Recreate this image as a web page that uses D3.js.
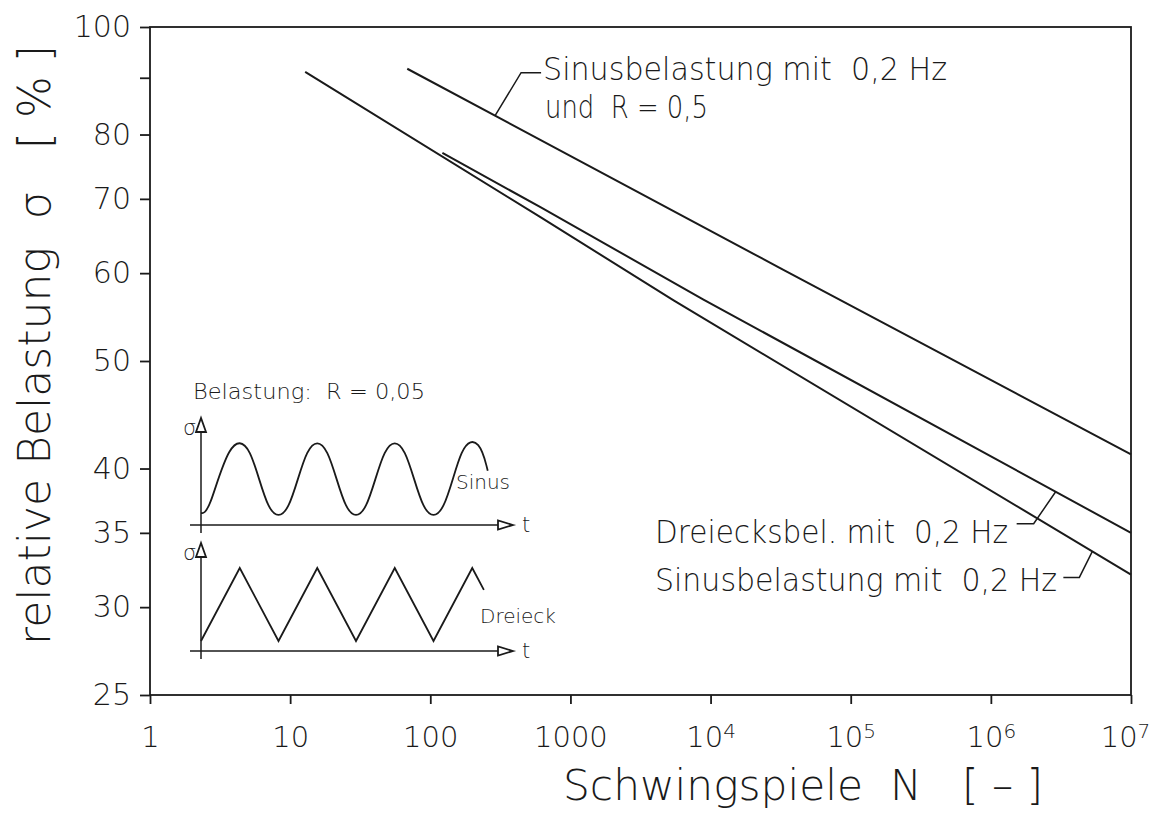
<!DOCTYPE html>
<html lang="de">
<head>
<meta charset="UTF-8">
<title>Woehlerlinien</title>
<script src="https://d3js.org/d3.v7.min.js"></script>
<style>
  body { margin: 0; background: #fff; }
  svg text { font-family: "DejaVu Sans", sans-serif; font-stretch: condensed; font-weight: 300; fill: #1a1a1a; white-space: pre; }
</style>
</head>
<body>
<div id="chart"></div>
<script>
// ---- data ----
var xTicks = [1, 10, 100, 1000, 1e4, 1e5, 1e6, 1e7];
var yTicks = [25, 30, 35, 40, 50, 60, 70, 80, 90, 100];
var yLabelled = [25, 30, 35, 40, 50, 60, 70, 80, 100];

// Sinusbelastung mit 0,2 Hz und R = 0,5
var sinusR05 = [[68.5, 91.7], [31600, 60.6], [1e7, 41.2]];
// Dreiecksbelastung mit 0,2 Hz
var dreieck = [[122, 77.0], [611, 68.8], [8900, 56.8], [1e7, 35.0]];
// Sinusbelastung mit 0,2 Hz
var sinus = [[12.8, 91.1], [611, 67.4], [5450, 56.7], [1e7, 32.1]];

// schematic load signals of the inset (t in cycles, level 0..1), spline control points
var sinusSignal = [[0, 0.04], [0.1, 0.04], [0.36, 1.04], [0.64, 1.04], [0.86, -0.03], [1.14, -0.03],
    [1.36, 1.04], [1.64, 1.04], [1.86, -0.03], [2.14, -0.03], [2.36, 1.04], [2.64, 1.04],
    [2.86, -0.03], [3.14, -0.03], [3.36, 1.04], [3.6, 1.04], [3.7, 0.62]];
var dreieckSignal = [[0, 0], [0.5, 1], [1, 0], [1.5, 1], [2, 0], [2.5, 1], [3, 0], [3.5, 1], [3.65, 0.7]];

// ---- layout ----
var W = 1155, H = 818;
var svg = d3.select("#chart").append("svg").attr("width", W).attr("height", H);

var x = d3.scaleLog().domain([1, 1e7]).range([150, 1131]);
var y = d3.scaleLog().domain([25, 100]).range([695, 27]);

var ink = "#1a1a1a";

// frame
svg.append("rect")
    .attr("x", x(1)).attr("y", y(100))
    .attr("width", x(1e7) - x(1)).attr("height", y(25) - y(100))
    .attr("fill", "none").attr("stroke", ink).attr("stroke-width", 1.8);

// y axis
var yAxis = svg.append("g")
    .attr("transform", "translate(" + x(1) + ",0)")
    .call(d3.axisLeft(y).tickValues(yTicks).tickSize(10).tickPadding(9)
        .tickFormat(function (d) { return yLabelled.indexOf(d) >= 0 ? d : ""; }));
yAxis.select(".domain").remove();
yAxis.selectAll(".tick line").attr("stroke", ink).attr("stroke-width", 1.8);
yAxis.selectAll(".tick text").style("font-size", "30px").attr("fill", ink);

// x axis
var xAxis = svg.append("g")
    .attr("transform", "translate(0," + y(25) + ")")
    .call(d3.axisBottom(x).tickValues(xTicks).tickSize(9).tickPadding(22)
        .tickFormat(function (d) { return d; }));
xAxis.select(".domain").remove();
xAxis.selectAll(".tick line").attr("stroke", ink).attr("stroke-width", 1.8);
xAxis.selectAll(".tick text")
    .style("font-size", "29px").attr("fill", ink)
    .each(function (d) {
        var t = d3.select(this);
        if (d >= 1e4) {
            t.text("");
            t.attr("dx", d === 1e7 ? "-6" : "0");
            t.append("tspan").text("10");
            t.append("tspan").attr("dy", "-0.45em").style("font-size", "20px")
                .text(String(Math.round(Math.log10(d))));
        }
    });

// axis titles
svg.append("text")
    .attr("x", 563).attr("y", 800)
    .attr("textLength", 480).attr("lengthAdjust", "spacingAndGlyphs")
    .style("font-size", "42px")
    .text("Schwingspiele  N   [ – ]");

svg.append("text")
    .attr("transform", "translate(50,645) rotate(-90)")
    .attr("textLength", 600).attr("lengthAdjust", "spacingAndGlyphs")
    .style("font-size", "44px")
    .text("relative Belastung  σ   [ % ]");

// S-N lines
var line = d3.line()
    .x(function (d) { return x(d[0]); })
    .y(function (d) { return y(d[1]); });

[sinusR05, dreieck, sinus].forEach(function (s) {
    svg.append("path").datum(s)
        .attr("d", line)
        .attr("fill", "none").attr("stroke", ink).attr("stroke-width", 2);
});

// point on a series at a given N (log-log interpolation)
function yAt(series, n) {
    for (var i = 1; i < series.length; i++) {
        var a = series[i - 1], b = series[i];
        if (n <= b[0]) {
            var f = (Math.log(n) - Math.log(a[0])) / (Math.log(b[0]) - Math.log(a[0]));
            return Math.exp(Math.log(a[1]) + f * (Math.log(b[1]) - Math.log(a[1])));
        }
    }
    return series[series.length - 1][1];
}

// leaders + labels
function leader(series, n, pts) {
    var px = x(n), py = y(yAt(series, n));
    var d = "M" + px + "," + py;
    pts.forEach(function (p) { d += "L" + (px + p[0]) + "," + (py + p[1]); });
    svg.append("path").attr("d", d).attr("fill", "none").attr("stroke", ink).attr("stroke-width", 1.5);
}

leader(sinusR05, 290, [[26, -43], [46, -43]]);
svg.append("text").attr("x", 543).attr("y", 80)
    .attr("textLength", 404).attr("lengthAdjust", "spacingAndGlyphs")
    .style("font-size", "32px").text("Sinusbelastung mit  0,2 Hz");
svg.append("text").attr("x", 545).attr("y", 118)
    .attr("textLength", 163).attr("lengthAdjust", "spacingAndGlyphs")
    .style("font-size", "32px").text("und  R = 0,5");

leader(dreieck, 2.9e6, [[-22, 32], [-39, 32]]);
svg.append("text").attr("x", 655).attr("y", 543)
    .attr("textLength", 353).attr("lengthAdjust", "spacingAndGlyphs")
    .style("font-size", "32px").text("Dreiecksbel. mit  0,2 Hz");

leader(sinus, 5.3e6, [[-13, 26], [-29, 26]]);
svg.append("text").attr("x", 655).attr("y", 591)
    .attr("textLength", 402).attr("lengthAdjust", "spacingAndGlyphs")
    .style("font-size", "32px").text("Sinusbelastung mit  0,2 Hz");

// ---- inset: load signal sketches ----
svg.append("text").attr("x", 193).attr("y", 399)
    .attr("textLength", 232).attr("lengthAdjust", "spacingAndGlyphs")
    .style("font-size", "21px").text("Belastung:  R = 0,05");

function sketch(signal, curve, ox, yLow, yHigh, axisY, topY, label, lx, ly) {
    var tx = d3.scaleLinear().domain([0, 1]).range([ox, ox + 77.5]);
    var ty = d3.scaleLinear().domain([0, 1]).range([yLow, yHigh]);
    var g = svg.append("g");
    // axes
    g.append("line").attr("x1", ox).attr("x2", ox).attr("y1", topY + 12).attr("y2", axisY + 8)
        .attr("stroke", ink).attr("stroke-width", 1.5);
    g.append("path").attr("d", "M" + ox + "," + topY + "L" + (ox - 5) + "," + (topY + 14) + "L" + (ox + 5) + "," + (topY + 14) + "Z")
        .attr("fill", "#fff").attr("stroke", ink).attr("stroke-width", 1.8);
    g.append("line").attr("x1", ox - 11).attr("x2", 500).attr("y1", axisY).attr("y2", axisY)
        .attr("stroke", ink).attr("stroke-width", 1.5);
    g.append("path").attr("d", "M513," + axisY + "L498," + (axisY - 4.5) + "L498," + (axisY + 4.5) + "Z")
        .attr("fill", "#fff").attr("stroke", ink).attr("stroke-width", 1.8);
    g.append("text").attr("x", 522).attr("y", axisY + 7).style("font-size", "21px").text("t");
    g.append("text").attr("x", ox - 18).attr("y", topY + 17).style("font-size", "21px").text("σ");
    // signal
    g.append("path").datum(signal)
        .attr("d", d3.line().curve(curve)
            .x(function (d) { return tx(d[0]); })
            .y(function (d) { return ty(d[1]); }))
        .attr("fill", "none").attr("stroke", ink).attr("stroke-width", 1.8);
    g.append("text").attr("x", lx).attr("y", ly).style("font-size", "20px").text(label);
}

sketch(sinusSignal, d3.curveBasis, 201, 516, 443, 525, 418, "Sinus", 456, 489);
sketch(dreieckSignal, d3.curveLinear, 201, 641, 568, 651, 543, "Dreieck", 480, 623);
</script>
</body>
</html>
